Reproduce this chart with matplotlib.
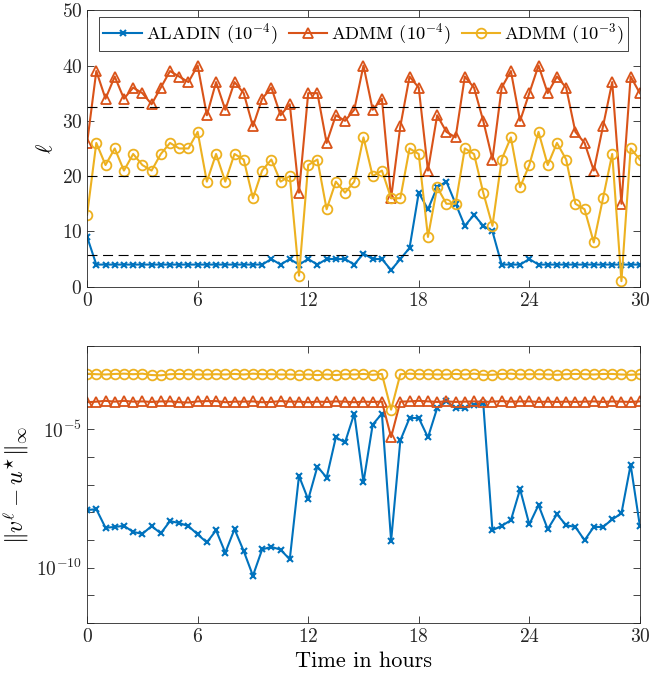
import matplotlib
matplotlib.use('Agg')
import matplotlib.pyplot as plt
import numpy as np

plt.rcParams['font.family'] = 'serif'
plt.rcParams['font.serif'] = ['cmr10']
plt.rcParams['mathtext.fontset'] = 'cm'
plt.rcParams['axes.formatter.use_mathtext'] = True
plt.rcParams['axes.unicode_minus'] = False

t = np.arange(0, 30.5, 0.5)

# iterations per time step (top panel)
iter_aladin = [9, 4, 4, 4, 4, 4, 4, 4, 4, 4, 4, 4, 4, 4, 4, 4, 4, 4, 4, 4,
               5, 4, 5, 4, 5, 4, 5, 5, 5, 4, 6,
               5, 5, 3, 5, 7, 17, 14, 18, 19, 15, 11, 13, 11, 10,
               4, 4, 4, 5, 4, 4, 4, 4, 4, 4, 4, 4, 4, 4, 4, 4]
iter_admm4 = [26, 39, 34, 38, 34, 36, 35, 33, 36, 39, 38, 37, 40, 31, 37, 32,
              37, 35, 29, 34, 36, 31, 33, 17, 35, 35, 26, 31, 30, 32, 40,
              32, 34, 16, 29, 38, 36, 21, 31, 28, 27, 38, 36, 30, 23, 36,
              39, 30, 35, 40, 35, 38, 36, 28, 26, 21, 29, 37, 15, 38, 35]
iter_admm3 = [13, 26, 22, 25, 21, 24, 22, 21, 24, 26, 25, 25, 28, 19, 24, 19,
              24, 23, 16, 21, 23, 19, 20, 2, 22, 23, 14, 19, 17, 19, 27,
              20, 21, 16, 16, 25, 24, 9, 18, 15, 15, 25, 24, 17, 11, 23,
              27, 18, 22, 28, 22, 26, 23, 15, 14, 8, 16, 24, 1, 25, 23]

# log10 of final error (bottom panel)
err_aladin = [-7.92, -7.89, -8.56, -8.53, -8.49, -8.71, -8.78, -8.50, -8.76,
              -8.32, -8.39, -8.50, -8.80, -9.09, -8.65, -9.46, -8.61, -9.40,
              -10.29, -9.34, -9.25, -9.35, -9.70, -6.69, -7.54, -6.35, -6.75,
              -5.30, -5.48, -4.44, -6.92,
              -4.84, -4.44, -9.03, -5.41, -4.60, -4.60, -5.30, -4.24, -4.00,
              -4.24, -4.24, -4.12, -4.06, -8.65, -8.49, -8.29, -7.17, -8.44,
              -7.74, -8.61, -8.07, -8.47, -8.53, -9.01, -8.53, -8.53, -8.26,
              -8.04, -6.29, -8.49]
err_admm4 = [-4.03, -4.01, -3.98, -4.01, -3.98, -4.01, -4.00, -4.02, -4.00,
             -4.00, -4.03, -4.04, -4.00, -3.99, -3.99, -4.03, -4.01, -4.01,
             -4.00, -4.03, -4.02, -3.99, -4.01, -4.01, -4.03, -4.01, -4.02,
             -4.00, -4.01, -4.03, -4.01,
             -4.02, -4.01, -5.29, -4.01, -4.00, -3.98, -4.00, -4.02, -4.00,
             -4.02, -4.01, -4.00, -4.02, -4.01, -3.99, -4.01, -4.00, -4.00,
             -4.02, -4.01, -4.02, -4.01, -4.02, -4.01, -4.00, -4.02, -4.00,
             -4.01, -4.02, -4.00]
err_admm3 = [-3.00, -3.02, -3.03, -3.01, -3.00, -3.02, -3.00, -3.05, -3.06,
             -3.02, -3.01, -3.02, -3.03, -3.03, -3.02, -3.03, -3.01, -3.03,
             -3.00, -3.02, -3.02, -3.03, -3.03, -3.04, -3.03, -3.05, -3.03,
             -3.05, -3.02, -3.03, -3.01,
             -3.04, -3.01, -4.30, -3.02, -3.00, -3.02, -3.02, -3.03, -3.03,
             -3.01, -3.03, -3.00, -3.04, -3.04, -3.01, -3.00, -3.03, -3.02,
             -3.02, -3.03, -3.04, -3.02, -3.01, -3.02, -3.03, -3.01, -3.01,
             -3.03, -3.04, -3.02]

c_blue = '#0072BD'
c_red = '#D95319'
c_yel = '#EDB120'
axcol = '#262626'

fig = plt.figure(figsize=[6.7, 6.81], dpi=100)
ax1 = fig.add_axes([0.130, 0.579, 0.825, 0.406])
ax2 = fig.add_axes([0.130, 0.085, 0.825, 0.407])

ax1.plot(t, iter_aladin, '-x', color=c_blue, lw=1.5, ms=5, mew=1.5,
         label=r'ALADIN $(10^{-4})$')
ax1.plot(t, iter_admm4, '-^', color=c_red, lw=1.5, ms=7, mew=1.3, mfc='none',
         label=r'ADMM $(10^{-4})$')
ax1.plot(t, iter_admm3, '-o', color=c_yel, lw=1.5, ms=7, mew=1.3, mfc='none',
         label=r'ADMM $(10^{-3})$')
for s in [iter_aladin, iter_admm4, iter_admm3]:
    ax1.plot([0, 30], [np.mean(s)] * 2, color='k', lw=0.8, ls=(0, (9, 5)))

ax2.semilogy(t, 10.**np.array(err_aladin), '-x', color=c_blue, lw=1.5, ms=5, mew=1.5)
ax2.semilogy(t, 10.**np.array(err_admm4), '-^', color=c_red, lw=1.5, ms=7, mew=1.3, mfc='none')
ax2.semilogy(t, 10.**np.array(err_admm3), '-o', color=c_yel, lw=1.5, ms=7, mew=1.3, mfc='none')

ax1.set_xlim([0, 30])
ax1.set_ylim([0, 50])
ax1.set_xticks(np.arange(0, 31, 6))
ax1.set_yticks(np.arange(0, 51, 10))
ax1.set_ylabel(r'$\ell$', fontsize=16)

ax2.set_xlim([0, 30])
ax2.set_ylim([1e-12, 1e-2])
ax2.set_xticks(np.arange(0, 31, 6))
ax2.set_yticks([10.**k for k in range(-12, -1)])
ax2.set_yticklabels(['$10^{%d}$' % k if k in (-5, -10) else '' for k in range(-12, -1)])
ax2.minorticks_off()
ax2.set_ylabel(r'$\|v^{\ell}-u^{\star}\|_{\infty}$', fontsize=17)
ax2.set_xlabel('Time in hours', fontsize=16)

for ax in (ax1, ax2):
    ax.tick_params(direction='in', top=True, right=True, labelsize=14,
                   length=5, width=0.6, colors=axcol)
    for sp in ax.spines.values():
        sp.set_color(axcol)
        sp.set_linewidth(0.6)

leg = ax1.legend(loc='upper center', ncol=3, fontsize=13.3, frameon=True,
                 fancybox=False, edgecolor=axcol, framealpha=1,
                 borderpad=0.25, handlelength=2.1, columnspacing=0.6,
                 handletextpad=0.2, borderaxespad=0.35,
                 bbox_to_anchor=(0.5, 1.0))
leg.get_frame().set_linewidth(0.6)

fig.savefig('out.png', dpi=100)
